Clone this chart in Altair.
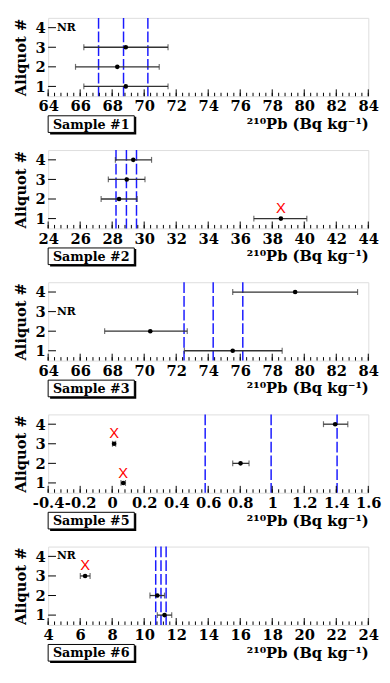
import altair as alt
import pandas as pd
import numpy as np

SERIF = "DejaVu Serif"
SANS = "Liberation Sans"

samples = ["Sample #1", "Sample #2", "Sample #3", "Sample #5", "Sample #6"]
x_domains = [[64, 84], [24, 44], [64, 84], [-0.4, 1.6], [4, 24]]
major_steps = [2, 2, 2, 0.2, 2]

s_aliquot = [[1, 2, 3], [1, 2, 3, 4], [1, 2, 4], [1, 2, 3, 4], [1, 2, 3]]
s_value = [[68.85, 68.32, 68.85], [38.54, 28.43, 28.91, 29.32], [75.53, 70.38, 79.43],
           [0.069, 0.802, 0.012, 1.393], [11.27, 10.82, 6.31]]
s_low = [[66.23, 65.71, 66.23], [36.85, 27.31, 27.76, 28.20], [72.51, 67.53, 75.53],
         [0.055, 0.753, 0.002, 1.320], [10.82, 10.36, 6.01]]
s_high = [[71.49, 70.94, 71.49], [40.16, 29.56, 30.05, 30.46], [78.62, 72.69, 83.33],
          [0.083, 0.855, 0.022, 1.472], [11.72, 11.27, 6.62]]
s_lines = [[67.15, 68.71, 70.23], [28.24, 28.89, 29.52], [72.49, 74.31, 76.16],
           [0.581, 0.993, 1.405], [10.72, 11.05, 11.37]]
s_nr = [[4], [], [3], [], [4]]
s_rej_x = [[], [38.54], [], [0.012, 0.069], [6.31]]
s_rej_y = [[], [1.52], [], [3.52, 1.5], [3.55]]

aliquot_ticks = [1, 2, 3, 4]
x_title = "²¹⁰Pb (Bq kg⁻¹)"

W = 327
H = 80
one = pd.DataFrame({"d": [0]})


def make_panel(i):
    lo_d, hi_d = x_domains[i]
    step = major_steps[i]
    n_major = int(round((hi_d - lo_d) / step))
    majors = [round(lo_d + k * step, 6) for k in range(n_major + 1)]
    minors = [round(lo_d + k * step / 5, 6) for k in range(n_major * 5 + 1)]

    xs = alt.Scale(domain=[lo_d, hi_d], nice=False, zero=False)
    ys = alt.Scale(domain=[0.5, 4.5], nice=False, zero=False)
    xaxis = alt.Axis(values=majors, labelExpr="'' + datum.value", title=x_title,
                     titleAnchor="end", titleAlign="right", titleFont=SERIF,
                     titleFontSize=15, titleFontWeight="bold", titleColor="black",
                     titlePadding=3, ticks=False, domain=False, grid=False,
                     labelFont=SERIF, labelFontSize=15, labelFontWeight="bold",
                     labelColor="black", labelPadding=3, labelFlush=False,
                     labelOverlap=False)
    yaxis = alt.Axis(values=aliquot_ticks, title="Aliquot #", ticks=False, domain=False,
                     grid=False, labelFont=SERIF, labelFontSize=15, labelFontWeight="bold",
                     labelColor="black", labelPadding=3, titleFont=SERIF,
                     titleFontSize=15, titleFontWeight="bold", titleColor="black",
                     titlePadding=7)

    def X(f):
        return alt.X(f, type="quantitative", scale=xs, axis=xaxis)

    def Y(f):
        return alt.Y(f, type="quantitative", scale=ys, axis=yaxis)

    pts = pd.DataFrame({"a": s_aliquot[i], "v": s_value[i], "lo": s_low[i], "hi": s_high[i]})
    base = alt.Chart(pts)
    ecol = "#333333"
    layers = []
    ln = pd.DataFrame({"m": s_lines[i]})
    layers.append(alt.Chart(ln).mark_rule(color="#1a1aff", strokeWidth=1.5,
                                          strokeDash=[11, 3]).encode(x=X("m")))
    layers.append(base.mark_rule(color=ecol, strokeWidth=1.3).encode(x=X("lo"), x2="hi", y=Y("a")))
    layers.append(base.mark_tick(orient="vertical", size=6, thickness=1.2, color=ecol)
                  .encode(x=X("lo"), y=Y("a")))
    layers.append(base.mark_tick(orient="vertical", size=6, thickness=1.2, color=ecol)
                  .encode(x=X("hi"), y=Y("a")))
    layers.append(base.mark_circle(size=22, color="black", opacity=1)
                  .encode(x=X("v"), y=Y("a")))
    mj = pd.DataFrame({"t": majors})
    mn = pd.DataFrame({"t": minors})
    layers.append(alt.Chart(mj).mark_rule(color="black", strokeWidth=1)
                  .encode(x=X("t"), y=alt.value(H), y2=alt.value(H - 7)))
    layers.append(alt.Chart(mn).mark_rule(color="black", strokeWidth=1)
                  .encode(x=X("t"), y=alt.value(H), y2=alt.value(H - 3.5)))
    yt = pd.DataFrame({"t": aliquot_ticks})
    layers.append(alt.Chart(yt).mark_rule(color="black", strokeWidth=1)
                  .encode(y=Y("t"), x=alt.value(0), x2=alt.value(8)))
    if s_nr[i]:
        nr = pd.DataFrame({"a": s_nr[i], "t": ["NR"] * len(s_nr[i])})
        layers.append(alt.Chart(nr).mark_text(font=SERIF, fontSize=11, fontWeight="bold",
                                              align="left", baseline="middle", color="black")
                      .encode(x=alt.value(9), y=Y("a"), text="t:N"))
    if s_rej_x[i]:
        rj = pd.DataFrame({"x": s_rej_x[i], "y": s_rej_y[i], "t": ["X"] * len(s_rej_x[i])})
        layers.append(alt.Chart(rj).mark_text(font=SANS, fontSize=15, color="red",
                                              align="center", baseline="middle")
                      .encode(x=X("x"), y=Y("y"), text="t:N"))
    layers.append(alt.Chart(one).mark_rect(color="black")
                  .encode(x=alt.value(2), x2=alt.value(90), y=alt.value(H + 21), y2=alt.value(H + 39)))
    layers.append(alt.Chart(one).mark_rect(fill="white", stroke="black", strokeWidth=1)
                  .encode(x=alt.value(0), x2=alt.value(88), y=alt.value(H + 20), y2=alt.value(H + 37)))
    layers.append(alt.Chart(one).mark_text(font=SERIF, fontSize=13, fontWeight="bold",
                                           align="center", baseline="middle", color="black")
                  .encode(x=alt.value(44), y=alt.value(H + 29), text=alt.value(samples[i])))
    return alt.layer(*layers).properties(width=W, height=H)


chart = alt.vconcat(*[make_panel(i) for i in range(5)], spacing=55, bounds="flush").properties(
    padding={"left": 5, "top": 1, "right": 0, "bottom": 0}
).configure_view(
    stroke="black", strokeWidth=1.3
).configure(background="white").resolve_scale(x="independent", y="independent")

chart.save("out.html", embed_options={"renderer": "svg", "actions": False})
